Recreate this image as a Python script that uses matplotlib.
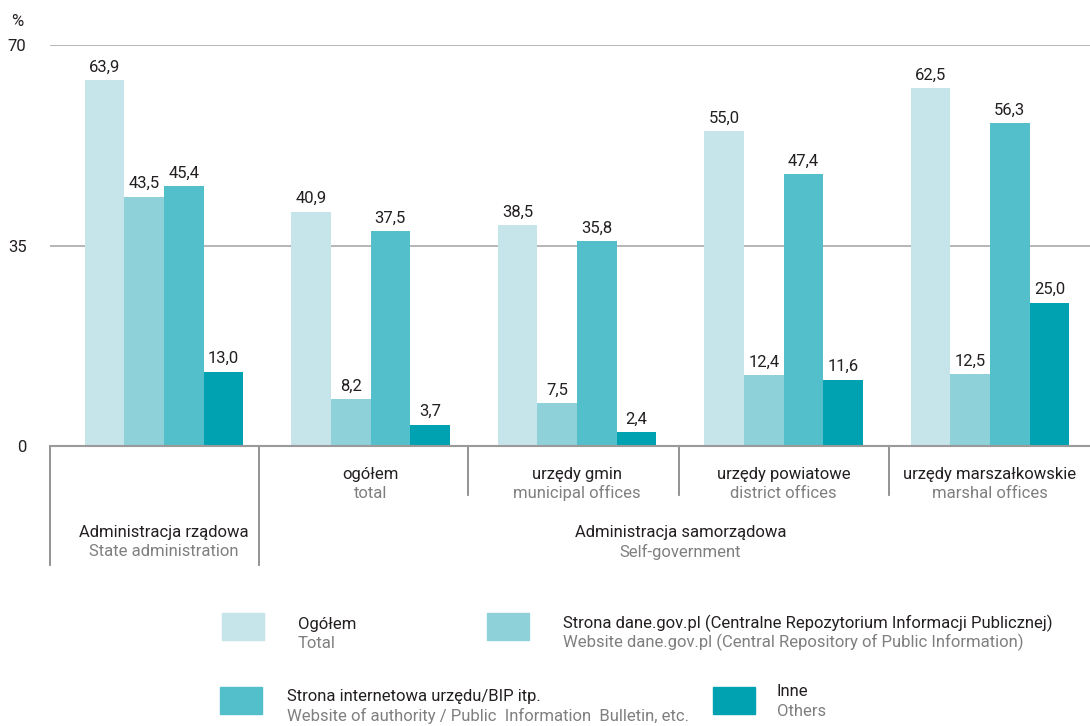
import matplotlib
matplotlib.use("Agg")
import matplotlib.pyplot as plt
from matplotlib import font_manager
from matplotlib.patches import Rectangle

names = {f.name for f in font_manager.fontManager.ttflist}
fam = ['Liberation Sans Narrow', 'DejaVu Sans'] if 'Liberation Sans Narrow' in names else ['Roboto', 'DejaVu Sans']
plt.rcParams['font.family'] = fam

groups_pl = ["", "ogółem", "urzędy gmin", "urzędy powiatowe", "urzędy marszałkowskie"]
groups_en = ["", "total", "municipal offices", "district offices", "marshal offices"]

ogolem = [63.9, 40.9, 38.5, 55.0, 62.5]
dane_gov = [43.5, 8.2, 7.5, 12.4, 12.5]
strona_www = [45.4, 37.5, 35.8, 47.4, 56.3]
inne = [13.0, 3.7, 2.4, 11.6, 25.0]

series_pl = ["Ogółem",
             "Strona dane.gov.pl (Centralne Repozytorium Informacji Publicznej)",
             "Strona internetowa urzędu/BIP itp.",
             "Inne"]
series_en = ["Total",
             "Website dane.gov.pl (Central Repository of Public Information)",
             "Website of authority / Public  Information  Bulletin, etc.",
             "Others"]
colors = ["#c5e5ea", "#8fd1d9", "#53bfca", "#00a1b0"]

dark = "#231f20"
grey = "#7f7f7f"

fig = plt.figure(figsize=(10.9, 7.26), dpi=100)
ax = fig.add_axes([50/1090, (726-446)/726, 1040/1090, 401/726])

w = 0.192
data = [ogolem, dane_gov, strona_www, inne]
for s, vals in enumerate(data):
    for g, v in enumerate(vals):
        x = g + (s - 1.5) * w
        ax.bar(x, v, width=w, color=colors[s], zorder=2)
        ax.annotate(f"{v:.1f}".replace(".", ","), (x, v), xytext=(0, 4),
                    textcoords="offset points", ha="center", va="bottom",
                    fontsize=12, color=dark)

ax.set_xlim(-0.552, 4.484)
ax.set_ylim(0, 70)
for y in [35, 70]:
    ax.axhline(y, color="#b0b0b0", lw=1.3, zorder=1)
ax.axhline(0, color="#9a9a9a", lw=1.5, zorder=3, clip_on=False)
for sp in ax.spines.values():
    sp.set_visible(False)
ax.set_xticks([])
ax.set_yticks([0, 35, 70])
ax.tick_params(axis="y", length=0, labelsize=12, labelcolor=dark, pad=17)
fig.text(11 / 1090, 1 - 22 / 726, "%", ha="left", va="center",
         fontsize=12, color=dark)

# group separators below axis
trans = ax.get_xaxis_transform()
seps = [(-0.552, 565), (0.46, 565), (1.472, 495), (2.494, 495), (3.511, 495)]
for xs, ybot in seps:
    yb = (446 - ybot) / 401
    ax.plot([xs, xs], [0, yb], transform=trans, color="#8a8a8a", lw=1.3,
            clip_on=False)

for g in range(1, 5):
    ax.text(g, (446 - 475) / 401, groups_pl[g], transform=trans, ha="center",
            va="center", fontsize=12, color=dark)
    ax.text(g, (446 - 493) / 401, groups_en[g], transform=trans, ha="center",
            va="center", fontsize=12, color=grey)

ax.text(0, (446 - 533) / 401, "Administracja rządowa", transform=trans,
        ha="center", va="center", fontsize=12, color=dark)
ax.text(0, (446 - 552) / 401, "State administration", transform=trans,
        ha="center", va="center", fontsize=12, color=grey)
ax.text(2.5, (446 - 533) / 401, "Administracja samorządowa", transform=trans,
        ha="center", va="center", fontsize=12, color=dark)
ax.text(2.5, (446 - 552) / 401, "Self-government", transform=trans,
        ha="center", va="center", fontsize=12, color=grey)

# legend
leg = [(222, 613, 298, 625, 643), (487, 613, 563, 623, 642),
       (220, 687, 287, 697, 716), (713, 687, 777, 692, 712)]
for i, (px, py, tx, t1, t2) in enumerate(leg):
    fig.patches.append(Rectangle((px / 1090, 1 - (py + 27) / 726), 42 / 1090,
                                 27 / 726, transform=fig.transFigure,
                                 color=colors[i]))
    fig.text(tx / 1090, 1 - t1 / 726, series_pl[i], ha="left", va="center",
             fontsize=12, color=dark)
    fig.text(tx / 1090, 1 - t2 / 726, series_en[i], ha="left", va="center",
             fontsize=12, color=grey)

fig.savefig("out.png", dpi=100)
